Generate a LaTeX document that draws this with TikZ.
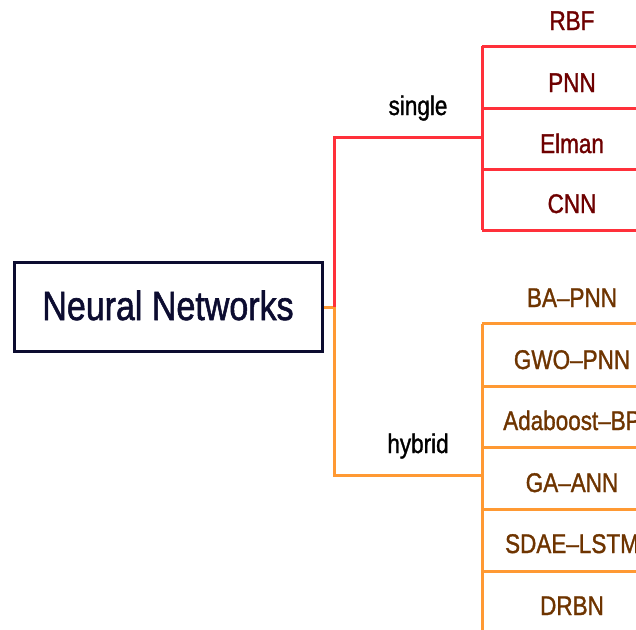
\documentclass[tikz,border=0pt]{standalone}
\usepackage{fontspec}
\setmainfont{Liberation Sans}
\newcommand{\tallt}[1]{\scalebox{1}[1.2]{#1}}
\begin{document}
\begin{tikzpicture}[x=1pt,y=-1pt,
  redline/.style={draw={rgb,255:red,255;green,48;blue,58},line width=3pt},
  orgline/.style={draw={rgb,255:red,255;green,153;blue,51},line width=3pt},
  redleaf/.style={anchor=base,inner sep=0pt,text={rgb,255:red,110;green,0;blue,0},font=\fontsize{22.5}{26}\selectfont\addfontfeature{FakeBold=1.3}},
  orgleaf/.style={anchor=base,inner sep=0pt,text={rgb,255:red,110;green,52;blue,0},font=\fontsize{22.5}{26}\selectfont\addfontfeature{FakeBold=1.3}},
  branchlbl/.style={anchor=base,inner sep=0pt,text=black,font=\fontsize{22.5}{26}\selectfont\addfontfeature{FakeBold=1.3}},
  rootbox/.style={draw={rgb,255:red,12;green,12;blue,48},line width=3pt,minimum width=308pt,minimum height=89pt,inner sep=0pt}
]
\useasboundingbox (0,0) rectangle (636,629);
\clip (0,0) rectangle (636,629);
\fill[white] (0,0) rectangle (636,629);

% root
\node[rootbox] (root) at (168.5,307) {};
\node[anchor=base,inner sep=0pt,text={rgb,255:red,12;green,12;blue,48},font=\fontsize{34}{40}\selectfont\addfontfeature{FakeBold=1.5}] (roottxt) at (168,320) {\tallt{Neural Networks}};

% junctions
\coordinate (j) at (334,307);
\coordinate (sj) at (482,137);
\coordinate (hj) at (482,475);

\draw[orgline] (root.east) -- (j);
\draw[redline] (j) |- (sj);
\draw[orgline] (j) |- (hj);

\node[branchlbl] (single) at (418,115) {\tallt{single}};
\node[branchlbl] (hybrid) at (418,453) {\tallt{hybrid}};

% single bracket
\coordinate (s1) at (482,46);
\coordinate (s2) at (482,108);
\coordinate (s3) at (482,169);
\coordinate (s4) at (482,230);
\draw[redline] (s1) -- (s4);
\foreach \c in {s1,s2,s3,s4} \draw[redline] (\c) -- ++(170,0);
\node[redleaf] (rbf) at (572,30) {\tallt{RBF}};
\node[redleaf] (pnn) at (572,92) {\tallt{PNN}};
\node[redleaf] (elman) at (572,153) {\tallt{Elman}};
\node[redleaf] (cnn) at (572,213) {\tallt{CNN}};

% hybrid bracket
\coordinate (h1) at (482,323.5);
\coordinate (h2) at (482,386);
\coordinate (h3) at (482,447);
\coordinate (h4) at (482,509);
\coordinate (h5) at (482,571);
\coordinate (h6) at (482,632);
\draw[orgline] (h1) -- (h6);
\foreach \c in {h1,h2,h3,h4,h5,h6} \draw[orgline] (\c) -- ++(170,0);
\node[orgleaf] (bapnn) at (572,307) {\tallt{BA--PNN}};
\node[orgleaf] (gwopnn) at (572,369) {\tallt{GWO--PNN}};
\node[orgleaf] (adabp) at (572,430) {\tallt{Adaboost--BP}};
\node[orgleaf] (gaann) at (572,492) {\tallt{GA--ANN}};
\node[orgleaf] (sdae) at (572,553) {\tallt{SDAE--LSTM}};
\node[orgleaf] (drbn) at (572,615) {\tallt{DRBN}};
\end{tikzpicture}
\end{document}
